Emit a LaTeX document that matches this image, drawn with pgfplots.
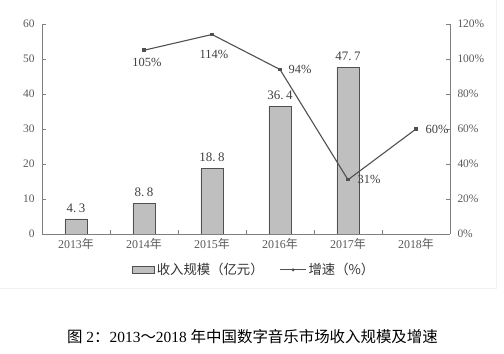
\documentclass[border=0pt]{standalone}
\usepackage{pgfplots}
\pgfplotsset{compat=1.18}
\usepackage{fontspec}
\setmainfont{Liberation Serif}
\newfontfamily\cjk{Noto Sans CJK SC}
\definecolor{tk}{HTML}{595959}
\definecolor{ax}{HTML}{7F7F7F}
\definecolor{barf}{HTML}{BFBFBF}
\definecolor{ln}{HTML}{505050}
\begin{document}
\begin{tikzpicture}
\useasboundingbox (0bp,0bp) rectangle (504bp,354bp);
\draw[gray!10] (496bp,354bp) -- (496bp,66bp) -- (0bp,66bp);
\begin{axis}[
  at={(42bp,120bp)}, anchor=south west,
  scale only axis, width=408bp, height=210bp,
  xmin=-0.5, xmax=5.5, ymin=0, ymax=60,
  axis y line*=left, axis x line*=bottom,
  axis line style={ax, line width=0.8pt},
  xtick={-0.5,0.5,...,5.5}, x tick label as interval,
  xticklabels={2013{\cjk 年},2014{\cjk 年},2015{\cjk 年},2016{\cjk 年},2017{\cjk 年},2018{\cjk 年}},
  ytick={0,10,...,60},
  major tick length=4bp, tick align=inside,
  tick style={ax, line width=0.8pt},
  tick label style={text=tk, font=\fontsize{11.5}{12}\selectfont},
  /pgf/number format/assume math mode=true,
  xticklabel style={yshift=-1bp, font=\fontsize{12}{12}\selectfont},
  yticklabel style={xshift=-4bp},
  legend style={at={(0.52,-0.171)}, anchor=center, draw=none, fill=none,
    legend columns=2, font=\cjk\fontsize{13.4}{14}\selectfont, text=black!80,
    /tikz/every even column/.append style={column sep=14bp}},
]
\addplot[ybar, bar width=22bp, fill=barf, draw=ln, line width=0.8pt,
  nodes near coords={\pgfmathprintnumber[fixed,precision=1,set decimal separator={.\hspace{2.5bp}}]{\pgfplotspointmeta}},
  nodes near coords style={text=black!75, font=\fontsize{13}{14}\selectfont, yshift=3bp},
  legend image code/.code={\draw[fill=barf, draw=ln, line width=0.8pt] (0bp,-3.5bp) rectangle (22bp,3.5bp);}
] coordinates {(0,4.3) (1,8.8) (2,18.8) (3,36.4) (4,47.7)};
\addlegendentry{收入规模（亿元）}
\addlegendimage{legend image code/.code={\draw[ln, line width=0.9pt] (0bp,0bp) -- (26bp,0bp); \fill[ln] (13bp,0bp) circle (1.3bp);}}
\addlegendentry{增速（\%）}
\end{axis}
\begin{axis}[
  at={(42bp,120bp)}, anchor=south west,
  scale only axis, width=408bp, height=210bp,
  xmin=-0.5, xmax=5.5, ymin=0, ymax=120,
  axis y line*=right, axis x line=none,
  axis line style={ax, line width=0.8pt},
  ytick={0,20,...,120},
  yticklabel={\pgfmathprintnumber{\tick}\%},
  major tick length=4bp, tick align=inside,
  tick style={ax, line width=0.8pt},
  tick label style={text=tk, font=\fontsize{11.5}{12}\selectfont},
  /pgf/number format/assume math mode=true,
  yticklabel style={xshift=4bp},
]
\addplot[ln, line width=1.1pt, mark=square*, mark size=1.2bp, mark options={fill=ln},
  point meta=explicit,
  visualization depends on={value \thisrow{anc} \as \myanc},
  visualization depends on={value \thisrow{dx} \as \mydx},
  visualization depends on={value \thisrow{dy} \as \mydy},
  nodes near coords={\pgfmathprintnumber{\pgfplotspointmeta}\%},
  nodes near coords style={anchor=\myanc, xshift=\mydx bp, yshift=\mydy bp, text=black!75, font=\fontsize{12.5}{13}\selectfont, inner sep=3bp},
] table[x=x, y=y, meta=y] {
x y anc dx dy
1 105 north 3 -4
2 114 north 2 -12
3 94 west 5 0
4 31 west 6 0
5 60 west 6 0
};
\end{axis}
\node[font=\fontsize{15.5}{17}\selectfont, anchor=center] at (252.5bp,17bp) {{\cjk 图} 2{\cjk ：}2013{\cjk ～}2018 {\cjk 年中国数字音乐市场收入规模及增速}};
\end{tikzpicture}
\end{document}
